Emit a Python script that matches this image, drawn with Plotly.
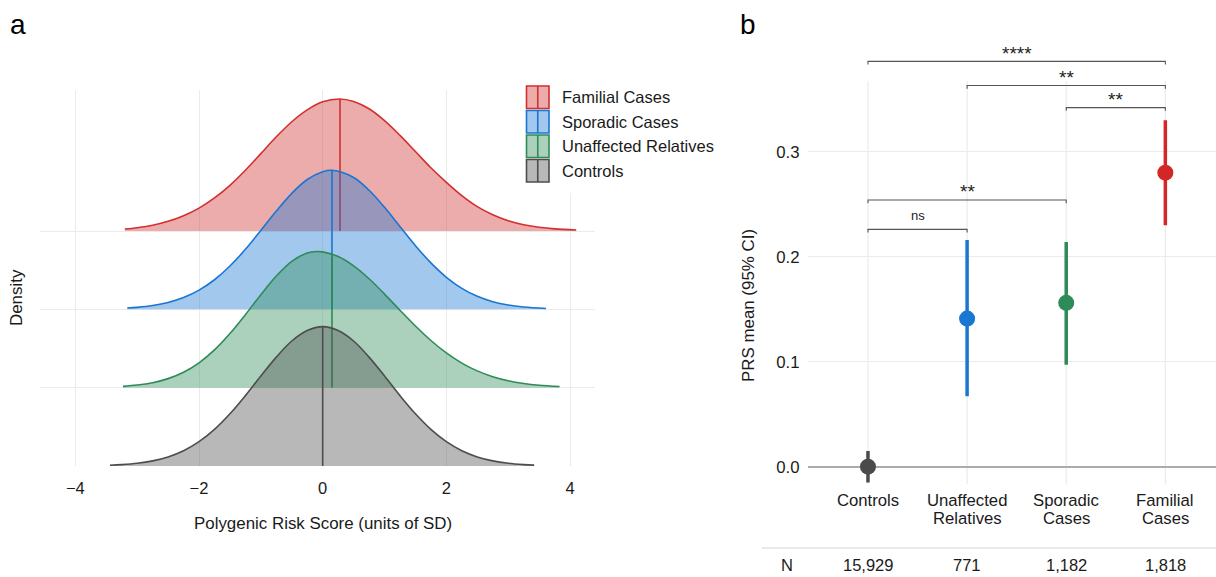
import numpy as np
import plotly.graph_objects as go

# ---------------- Panel a data (ridge densities) ----------------
ridge_groups = ["Controls", "Unaffected Relatives", "Sporadic Cases", "Familial Cases"]  # bottom -> top
legend_labels = ["Familial Cases", "Sporadic Cases", "Unaffected Relatives", "Controls"]

controls_x = [-3.44, -3.25, -3.0, -2.75, -2.5, -2.25, -2.0, -1.75, -1.5, -1.25, -1.0, -0.75, -0.5, -0.25, 0.0,
              0.25, 0.5, 0.75, 1.0, 1.25, 1.5, 1.75, 2.0, 2.25, 2.5, 2.75, 3.0, 3.25, 3.42]
controls_d = [0.0023, 0.0040, 0.0078, 0.0147, 0.026, 0.0436, 0.0694, 0.1045, 0.149, 0.201, 0.257, 0.311, 0.357, 0.387, 0.398,
              0.387, 0.357, 0.311, 0.257, 0.201, 0.149, 0.1045, 0.0694, 0.0436, 0.026, 0.0147, 0.0078, 0.0040, 0.0024]

unaffected_x = [-3.23, -3.0, -2.75, -2.5, -2.25, -2.0, -1.75, -1.5, -1.25, -1.0, -0.75, -0.5, -0.25, -0.1, 0.0,
                0.25, 0.5, 0.75, 1.0, 1.25, 1.5, 1.75, 2.0, 2.25, 2.5, 2.75, 3.0, 3.25, 3.5, 3.83]
unaffected_d = [0.0038, 0.0074, 0.0142, 0.0258, 0.0441, 0.071, 0.1078, 0.1545, 0.2086, 0.2656, 0.3188, 0.3607, 0.3849, 0.389, 0.3878,
                0.3745, 0.3479, 0.311, 0.2673, 0.221, 0.176, 0.1347, 0.0992, 0.0702, 0.0479, 0.0314, 0.0198, 0.012, 0.007, 0.0032]

sporadic_x = [-3.16, -3.0, -2.75, -2.5, -2.25, -2.0, -1.75, -1.5, -1.25, -1.0, -0.75, -0.5, -0.25, 0.0, 0.15,
              0.5, 0.75, 1.0, 1.25, 1.5, 1.75, 2.0, 2.25, 2.5, 2.75, 3.0, 3.25, 3.61]
sporadic_d = [0.0036, 0.0056, 0.0108, 0.0196, 0.0336, 0.0548, 0.0845, 0.1236, 0.1713, 0.2253, 0.2806, 0.3313, 0.3707, 0.393, 0.397,
              0.3767, 0.340, 0.2913, 0.2364, 0.1818, 0.1326, 0.0916, 0.060, 0.0372, 0.0219, 0.0122, 0.0065, 0.0023]

familial_x = [-3.2, -3.0, -2.75, -2.5, -2.25, -2.0, -1.75, -1.5, -1.25, -1.0, -0.75, -0.5, -0.25, 0.0, 0.27,
              0.5, 0.75, 1.0, 1.25, 1.5, 1.75, 2.0, 2.25, 2.5, 2.75, 3.0, 3.25, 3.5, 3.75, 4.1]
familial_d = [0.0055, 0.0095, 0.0165, 0.0276, 0.0437, 0.0655, 0.0945, 0.1305, 0.1735, 0.221, 0.269, 0.312, 0.346, 0.369, 0.377,
              0.370, 0.349, 0.315, 0.273, 0.227, 0.1806, 0.139, 0.101, 0.0695, 0.0465, 0.0295, 0.018, 0.0105, 0.006, 0.0028]

ridge_x = [controls_x, unaffected_x, sporadic_x, familial_x]
ridge_d = [controls_d, unaffected_d, sporadic_d, familial_d]
ridge_means = [0.0, 0.15, 0.15, 0.28]

# ---------------- Panel b data ----------------
categories_b = ["Controls", "Unaffected<br>Relatives", "Sporadic<br>Cases", "Familial<br>Cases"]
prs_mean = [0.0, 0.141, 0.156, 0.280]
ci_low = [-0.015, 0.067, 0.097, 0.230]
ci_high = [0.015, 0.216, 0.214, 0.330]
n_counts = ["15,929", "771", "1,182", "1,818"]
bracket_pairs = [(0, 3), (1, 3), (2, 3), (0, 2), (0, 1)]
bracket_labels = ["****", "**", "**", "**", "ns"]
bracket_levels = [0.386, 0.363, 0.342, 0.254, 0.226]

# ---------------- styles ----------------
line_colors = ["#4D4D4D", "#2E8B57", "#1976D2", "#D32F2F"]
fill_colors = ["rgba(77,77,77,0.40)", "rgba(46,139,87,0.40)", "rgba(25,118,210,0.40)", "rgba(211,47,47,0.40)"]
point_colors = ["#4A4A4A", "#1976D2", "#2E8B57", "#D32626"]
color_by_label = {g: (line_colors[i], fill_colors[i]) for i, g in enumerate(ridge_groups)}

W, H = 1216, 577
FONT = "Liberation Sans, Arial, Helvetica, sans-serif"
GRID = "#EBEBEB"
TXT = "#1a1a1a"
SCALE = 4.47
TITLE_SIZE = 16.9


def px(x):
    return x / W


def py(y):
    return 1 - y / H


fig = go.Figure()

# ---------------- Panel a traces (top ridge drawn first) ----------------
for i in reversed(range(len(ridge_groups))):
    xs = ridge_x[i]
    ds = ridge_d[i]
    fig.add_trace(go.Scatter(x=[xs[0], xs[-1]], y=[i, i], mode="lines",
                             line=dict(width=0, color="rgba(0,0,0,0)"),
                             hoverinfo="skip", showlegend=False, xaxis="x", yaxis="y"))
    fig.add_trace(go.Scatter(x=xs, y=[i + d * SCALE for d in ds], mode="lines",
                             line=dict(color=line_colors[i], width=1.6, shape="spline", smoothing=1.0),
                             fill="tonexty", fillcolor=fill_colors[i],
                             name=ridge_groups[i], showlegend=False, xaxis="x", yaxis="y"))
    m = ridge_means[i]
    top = i + float(np.interp(m, xs, ds)) * SCALE
    fig.add_trace(go.Scatter(x=[m, m], y=[i, top], mode="lines",
                             line=dict(color=line_colors[i], width=1.6),
                             hoverinfo="skip", showlegend=False, xaxis="x", yaxis="y"))

# ---------------- Panel b traces ----------------
for i in range(len(categories_b)):
    fig.add_trace(go.Scatter(
        x=[i], y=[prs_mean[i]], mode="markers",
        marker=dict(color=point_colors[i], size=16),
        error_y=dict(type="data", symmetric=False,
                     array=[ci_high[i] - prs_mean[i]],
                     arrayminus=[prs_mean[i] - ci_low[i]],
                     color=point_colors[i], thickness=3.5, width=0),
        showlegend=False, xaxis="x2", yaxis="y2"))

shapes = []
annotations = []


def note(x, y, text, size, xref="paper", yref="paper", xanchor="center", yanchor="middle", **kw):
    annotations.append(dict(xref=xref, yref=yref, x=x, y=y, text=text, showarrow=False,
                            xanchor=xanchor, yanchor=yanchor,
                            font=dict(size=size, color=kw.pop("color", TXT), family=FONT), **kw))


# vertical grid lines panel b
for i in range(len(categories_b)):
    shapes.append(dict(type="line", xref="x2", yref="y2", x0=i, x1=i, y0=-0.017, y1=0.367,
                       line=dict(color=GRID, width=1.2), layer="below"))

# brackets
for (a, b), lab, lev in zip(bracket_pairs, bracket_labels, bracket_levels):
    shapes.append(dict(type="path", xref="x2", yref="y2",
                       path=f"M {a},{lev-0.003} L {a},{lev} L {b},{lev} L {b},{lev-0.003}",
                       line=dict(color="#555555", width=1.1)))
    is_ns = lab == "ns"
    note((a + b) / 2, lev, lab, 13 if is_ns else 19, xref="x2", yref="y2",
         yshift=14 if is_ns else 8, color="#222222")

# category labels (two lines each)
for i, cat in enumerate(categories_b):
    parts = cat.split("<br>")
    for j, part in enumerate(parts):
        note(i, py(500 + 18 * j), part, 16.7, xref="x2")

# N row
shapes.append(dict(type="line", xref="paper", yref="paper", x0=px(762), x1=1.0, y0=py(548), y1=py(548),
                   line=dict(color="#E3E3E3", width=1.5)))
note(px(787), py(565), "N", 16.5)
for i, n in enumerate(n_counts):
    note(i, py(565), n, 16.5, xref="x2")

# white area behind legend (hides grid line as in reference)
shapes.append(dict(type="rect", xref="paper", yref="paper", x0=px(512), x1=px(728), y0=py(193), y1=py(82),
                   fillcolor="white", line=dict(width=0), layer="above"))

# custom legend
for k, lab in enumerate(legend_labels):
    lc, fc = color_by_label[lab]
    y0 = 86 + k * 24.5
    y1 = y0 + 22.5
    shapes.append(dict(type="rect", xref="paper", yref="paper", x0=px(526.5), x1=px(549), y0=py(y1), y1=py(y0),
                       fillcolor=fc, line=dict(color=lc, width=1.6), layer="above"))
    shapes.append(dict(type="line", xref="paper", yref="paper", x0=px(537.75), x1=px(537.75), y0=py(y1), y1=py(y0),
                       line=dict(color=lc, width=1.6), layer="above"))
    note(px(560), py((y0 + y1) / 2), lab, 16.5, xanchor="left")

# titles and panel labels
note(px(18), py(25), "a", 28, color="black")
note(px(748), py(25), "b", 28, color="black")
note(px(323), py(523), "Polygenic Risk Score (units of SD)", TITLE_SIZE)
note(px(16), py(298), "Density", TITLE_SIZE, textangle=-90)
note(px(748), py(306), "PRS mean (95% CI)", TITLE_SIZE, textangle=-90)

fig.update_layout(
    width=W, height=H,
    margin=dict(l=0, r=0, t=0, b=0),
    paper_bgcolor="white", plot_bgcolor="white",
    font=dict(family=FONT, color=TXT),
    showlegend=False,
    xaxis=dict(domain=[px(40), px(595)], range=[-4.572, 4.404], tickvals=[-4, -2, 0, 2, 4],
               ticktext=["\u22124", "\u22122", "0", "2", "4"], anchor="y",
               showgrid=True, gridcolor=GRID, gridwidth=1.2, zeroline=False, showline=False,
               ticks="outside", ticklen=7, tickcolor="rgba(0,0,0,0)",
               tickfont=dict(size=16.5, color=TXT)),
    yaxis=dict(domain=[py(466), py(90)], range=[0, 4.8], tickvals=[0, 1, 2, 3], showticklabels=False,
               anchor="x", showgrid=True, gridcolor=GRID, gridwidth=1.2, zeroline=False, showline=False),
    xaxis2=dict(domain=[px(808), 1.0], range=[-0.605, 3.511], anchor="y2",
                showticklabels=False, showgrid=False, zeroline=False, showline=False),
    yaxis2=dict(domain=[py(484.5), py(46.7)], range=[-0.017, 0.40], tickvals=[0.0, 0.1, 0.2, 0.3],
                ticktext=["0.0", "0.1", "0.2", "0.3"], anchor="x2",
                showgrid=True, gridcolor=GRID, gridwidth=1.2, zeroline=True, zerolinecolor="#ABABAB",
                zerolinewidth=2, showline=False, ticks="outside", ticklen=4, tickcolor="rgba(0,0,0,0)",
                tickfont=dict(size=16.8, color=TXT)),
    shapes=shapes,
    annotations=annotations,
)

fig.write_html("out.html", config={"displayModeBar": False},
               post_script="document.body.style.margin='0';")
